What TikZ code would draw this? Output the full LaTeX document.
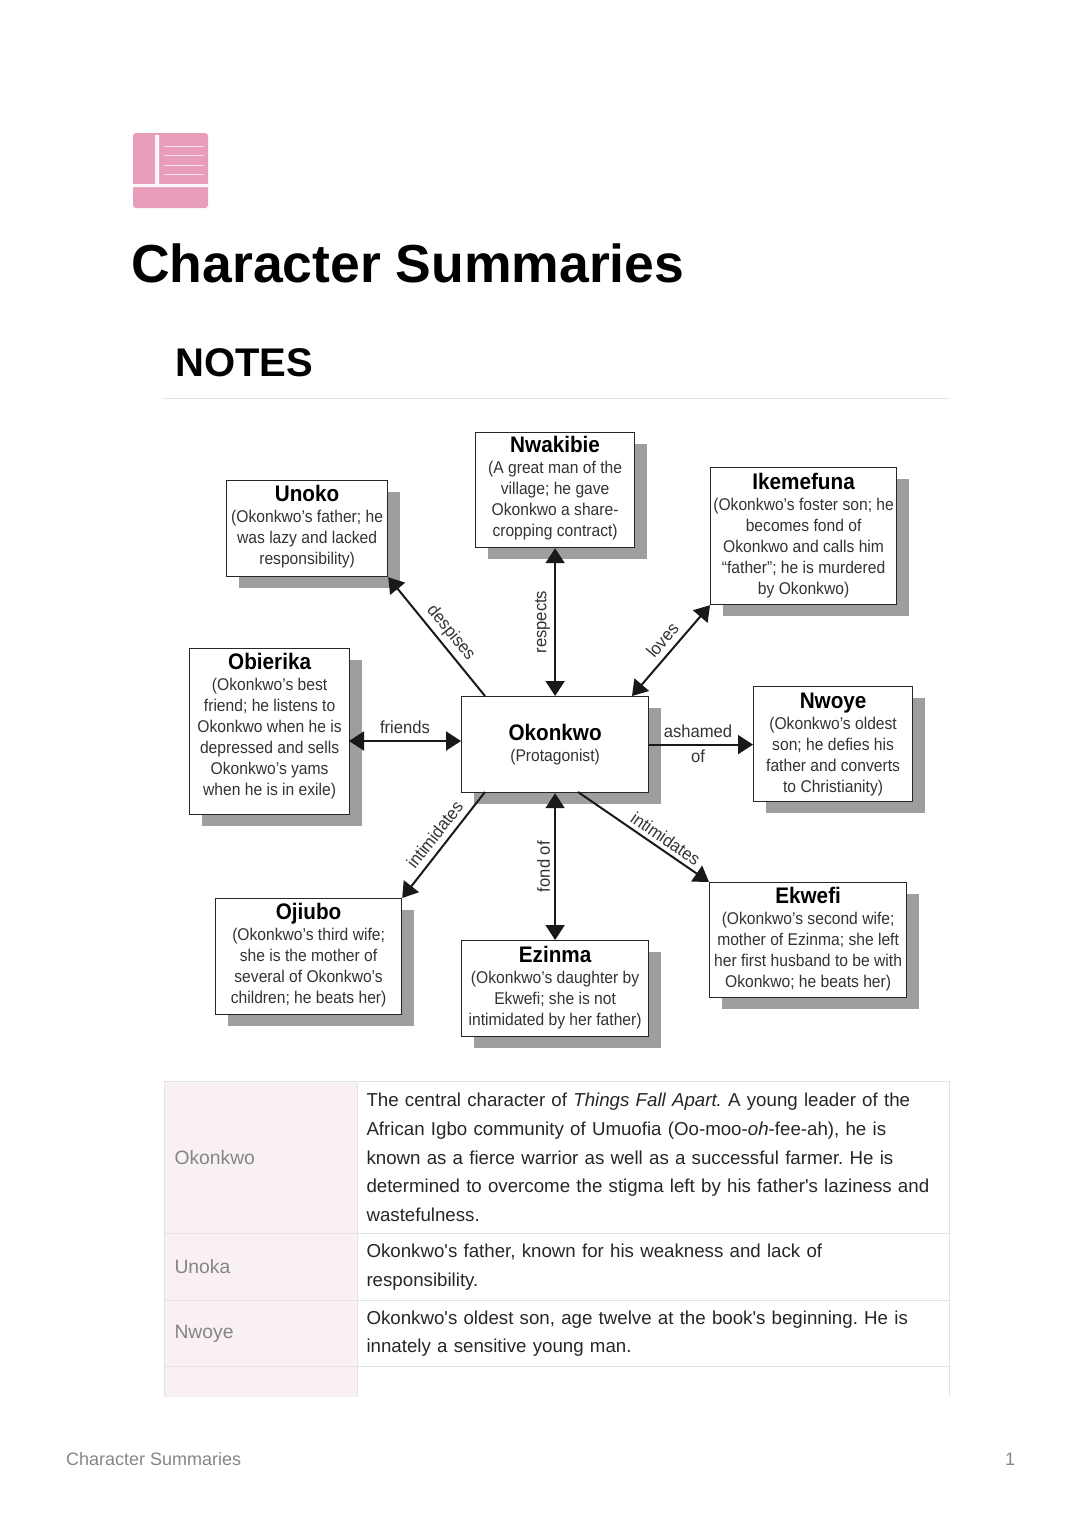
\documentclass[tikz,border=0pt]{standalone}
\usepackage{fontspec}
\setmainfont[Ligatures=TeXOff]{Liberation Sans}
\newfontfamily\boxfont[FakeStretch=0.92]{Liberation Sans}
\newfontfamily\linkfont[FakeStretch=0.95]{Liberation Sans}
\usetikzlibrary{shadows,arrows.meta}
\definecolor{iconpink}{HTML}{E89DBB}
\definecolor{cellpink}{HTML}{F8F0F3}
\definecolor{rulegray}{HTML}{E3E3E3}
\definecolor{labelgray}{HTML}{858585}
\definecolor{boxtext}{HTML}{333333}
\newcommand{\who}[1]{{\color{black}\fontsize{22.5}{24}\selectfont\bfseries #1}\\}
\tikzset{
  person/.style={draw=black!85,line width=1.2pt,fill=white,anchor=north west,inner sep=0pt,align=center,
    text=boxtext,font=\boxfont\fontsize{17}{21}\selectfont,
    drop shadow={shadow xshift=12pt,shadow yshift=-11pt,fill=black!38,opacity=1}},
  link/.style={line width=2pt,black!90,>={Triangle[length=15pt,width=19pt]}},
  linklabel/.style={text=boxtext,font=\linkfont\fontsize{17.5}{20}\selectfont,inner sep=4pt},
  cell/.style={anchor=north west,inner ysep=0pt,draw=rulegray,line width=1pt,align=left},
  namecell/.style={cell,fill=cellpink,text=labelgray,inner xsep=10pt,text width=173pt,font=\fontsize{19.3}{28.6}\selectfont},
  textcell/.style={cell,text=black!85,inner xsep=9pt,text width=574pt,font=\frenchspacing\fontsize{18.7}{28.6}\selectfont},
  pagetext/.style={anchor=base west,inner sep=0pt}
}
\begin{document}
\begin{tikzpicture}[x=1pt,y=-1pt]
\useasboundingbox (0,0) rectangle (1080,1528);
% icon
\fill[iconpink,rounded corners=3pt] (133,133) rectangle (208,208);
\fill[white!90!iconpink] (155,135) rectangle (159,184) (133,184) rectangle (208,187);
\foreach \y in {146,155,165,174}
  \draw[white!70!iconpink,line width=1pt] (164,\y) -- (204,\y);
% headings
\node[pagetext,font=\fontsize{53.5}{60}\selectfont\bfseries] (title) at (131,282.5) {Character Summaries};
\node[pagetext,font=\fontsize{40}{46}\selectfont\bfseries] (notes) at (175,376) {NOTES};
\draw[rulegray,line width=1pt] (163,398) -- (949,398);
% characters
\node[person,minimum width=161pt,minimum height=96pt] (unoko) at (226,480)
  {\who{Unoko}(Okonkwo’s father; he\\was lazy and lacked\\responsibility)\\[-14pt]};
\node[person,minimum width=159pt,minimum height=115pt] (nwakibie) at (475,432)
  {\who{Nwakibie}(A great man of the\\village; he gave\\Okonkwo a share-\\cropping contract)\\[-14pt]};
\node[person,minimum width=186pt,minimum height=137pt] (ikemefuna) at (710,467)
  {\who{Ikemefuna}(Okonkwo’s foster son; he\\becomes fond of\\Okonkwo and calls him\\“father”; he is murdered\\by Okonkwo)\\[-16pt]};
\node[person,minimum width=160pt,minimum height=166pt] (obierika) at (189,648)
  {\who{Obierika}(Okonkwo’s best\\friend; he listens to\\Okonkwo when he is\\depressed and sells\\Okonkwo’s yams\\when he is in exile)\\[-6pt]};
\node[person,minimum width=187pt,minimum height=96pt] (okonkwo) at (461,696)
  {\who{Okonkwo}(Protagonist)};
\node[person,minimum width=159pt,minimum height=115pt] (nwoye) at (753,686)
  {\who{Nwoye}(Okonkwo’s oldest\\son; he defies his\\father and converts\\to Christianity)\\[-19pt]};
\node[person,minimum width=186pt,minimum height=116pt] (ojiubo) at (215,898)
  {\who{Ojiubo}(Okonkwo’s third wife;\\she is the mother of\\several of Okonkwo’s\\children; he beats her)\\[-15pt]};
\node[person,minimum width=187pt,minimum height=96pt] (ezinma) at (461,940)
  {\who{Ezinma}(Okonkwo’s daughter by\\Ekwefi; she is not\\intimidated by her father)\\[-15pt]};
\node[person,minimum width=197pt,minimum height=115pt] (ekwefi) at (709,882)
  {\who{Ekwefi}(Okonkwo’s second wife;\\mother of Ezinma; she left\\her first husband to be with\\Okonkwo; he beats her)\\[-16pt]};
% connector ends on the big box
\coordinate (oknw) at (485,696);
\coordinate (okne) at (632,696);
\coordinate (oksw) at (485,792);
\coordinate (okse) at (578,792);
\coordinate (okfr) at (461,741);
\coordinate (obfr) at (349,741);
% connectors
\draw[link,->] (oknw) -- node[linklabel,sloped,above,pos=.46] {despises} (unoko.south east);
\draw[link,<->] (okonkwo.north) -- node[linklabel,sloped,above] {respects} (nwakibie.south);
\draw[link,<->] (okne) -- node[linklabel,sloped,above=2pt,pos=.52] {loves} (ikemefuna.south west);
\draw[link,<->] (obfr) -- node[linklabel,above=2pt] {friends} (okfr);
\draw[link,->] (okonkwo.east) -- node[linklabel,above=2pt,pos=.47] {ashamed} node[linklabel,below,pos=.47] {of} (okonkwo.east -| nwoye.west);
\draw[link,->] (oksw) -- node[linklabel,sloped,above=2pt,pos=.48] {intimidates} (ojiubo.north east);
\draw[link,<->] (ezinma.north) -- node[linklabel,sloped,above] {fond of} (okonkwo.south);
\draw[link,->] (okse) -- node[linklabel,sloped,above,pos=.62] {intimidates} (ekwefi.north west);
% table
\node[textcell,minimum height=152pt] (textA) at (357,1081)
  {The central character of \textit{Things Fall Apart.} A young leader of the\\African Igbo community of Umuofia (Oo-moo-\textit{oh}-fee-ah), he is\\known as a fierce warrior as well as a successful farmer. He is\\determined to overcome the stigma left by his father's laziness and\\wastefulness.};
\node[namecell,minimum height=152pt] (nameA) at (164,1081) {Okonkwo};
\node[textcell,minimum height=67pt] (textB) at (357,1233)
  {Okonkwo's father, known for his weakness and lack of\\responsibility.};
\node[namecell,minimum height=67pt] (nameB) at (164,1233) {Unoka};
\node[textcell,minimum height=66pt] (textC) at (357,1300)
  {Okonkwo's oldest son, age twelve at the book's beginning. He is\\innately a sensitive young man.};
\node[namecell,minimum height=66pt] (nameC) at (164,1300) {Nwoye};
\fill[cellpink] (164,1367) rectangle (357,1397);
\draw[rulegray,line width=1pt] (164,1366) -- (164,1397) (357,1366) -- (357,1397) (949,1366) -- (949,1397);
% footer
\node[pagetext,text=labelgray,font=\fontsize{18}{22}\selectfont] (footer) at (66,1465) {Character Summaries};
\node[pagetext,text=labelgray,font=\fontsize{18}{22}\selectfont] (pageno) at (1005,1465) {1};
\end{tikzpicture}
\end{document}
